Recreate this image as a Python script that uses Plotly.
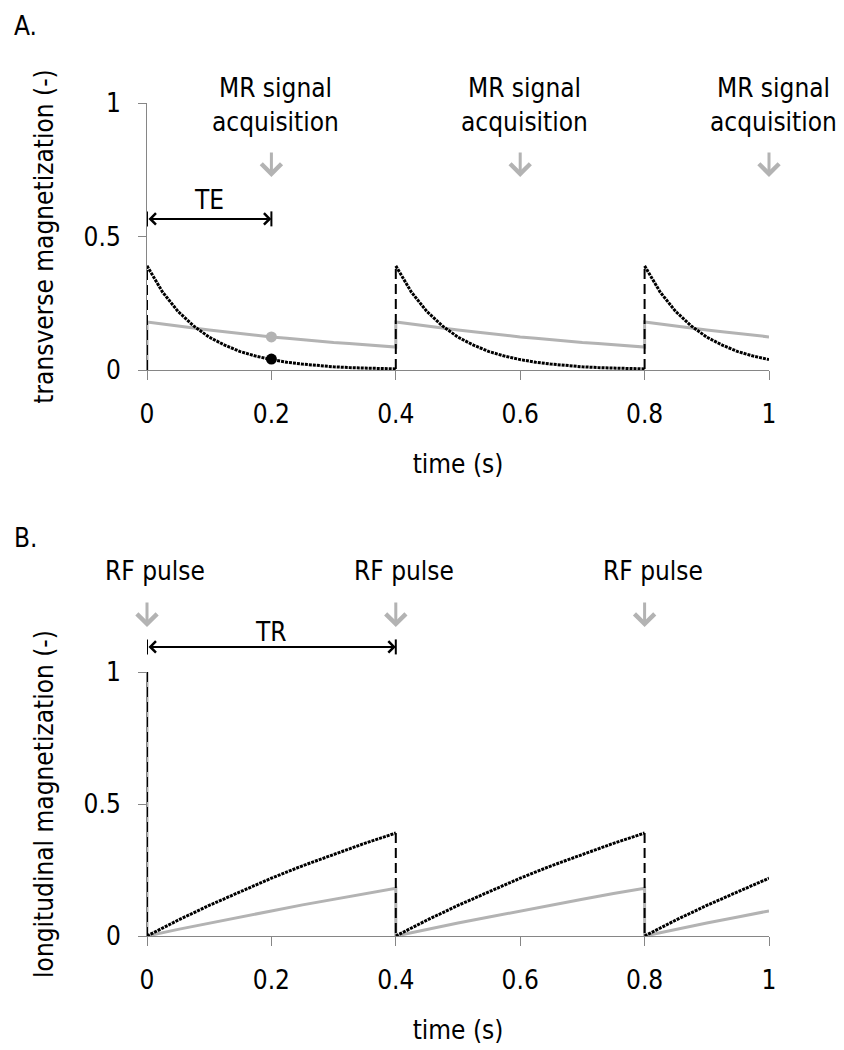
import plotly.graph_objects as go

# ---------------- data ----------------
pulse_times = [0.0, 0.4, 0.8]          # RF pulses (s)
t_end = 1.0
acq_times = [0.2, 0.6, 1.0]            # MR signal acquisition (s)
TE = 0.2
TR = 0.4
x_tick_vals = [0, 0.2, 0.4, 0.6, 0.8, 1]
x_tick_text = ["0", "0.2", "0.4", "0.6", "0.8", "1"]
y_tick_vals = [0, 0.5, 1]
y_tick_text = ["0", "0.5", "1"]

# Panel A: transverse magnetization over one TR (time since pulse)
t_cycle_A = [0.0, 0.025, 0.05, 0.075, 0.1, 0.125, 0.15, 0.175, 0.2,
             0.225, 0.25, 0.275, 0.3, 0.325, 0.35, 0.375, 0.4]
transverse_black = [0.390, 0.292, 0.219, 0.165, 0.123, 0.093, 0.069, 0.052, 0.039,
                    0.029, 0.022, 0.016, 0.012, 0.009, 0.007, 0.005, 0.004]
transverse_gray = [0.180, 0.172, 0.164, 0.157, 0.150, 0.143, 0.136, 0.130, 0.124,
                   0.119, 0.113, 0.108, 0.103, 0.099, 0.094, 0.090, 0.086]
transverse_before_first_pulse = 0.0

# Panel B: longitudinal magnetization over one TR (time since pulse)
t_cycle_B = [0.0, 0.05, 0.1, 0.15, 0.2, 0.25, 0.3, 0.35, 0.4]
longitudinal_black = [0.000, 0.060, 0.116, 0.169, 0.219, 0.266, 0.310, 0.351, 0.390]
longitudinal_gray = [0.000, 0.025, 0.049, 0.072, 0.095, 0.118, 0.139, 0.161, 0.181]
longitudinal_before_first_pulse = 1.0

# dots at TE
te_dot_gray = 0.124
te_dot_black = 0.041

# ---------------- styling ----------------
FONT = "DejaVu Sans Condensed, DejaVu Sans"
BLACK = "#000000"
GRAY = "#b3b3b3"
AXIS = "#868686"
CURVE_DASH = "3px,1px"
JUMP_DASH = "10px,5px"
FS = 26

# the page body has an 8px margin: figure is drawn at (8, 8)
OFF = 8
W, H = 844 - OFF, 1050 - OFF


def px_x(p):
    return (p - OFF) / W


def px_y(p):
    return 1 - (p - OFF) / H


def build(t_cycle, vals, before):
    """Return curve (with gaps), jump (with gaps) and full coordinates."""
    cx, cy, jx, jy, fx, fy = [], [], [], [], [], []
    prev = before
    for p in pulse_times:
        seg_t = [p + t for t in t_cycle if p + t <= t_end + 1e-9]
        seg_v = vals[:len(seg_t)]
        jx += [p, p, None]
        jy += [prev, seg_v[0], None]
        cx += seg_t + [None]
        cy += seg_v + [None]
        fx += [p] + seg_t
        fy += [prev] + seg_v
        prev = seg_v[-1]
    return cx, cy, jx, jy, fx, fy


fig = go.Figure()


def add_panel(t_cycle, black, gray, before_black, before_gray, xa, ya):
    _, _, _, _, gx, gy = build(t_cycle, gray, before_gray)
    fig.add_trace(go.Scatter(x=gx, y=gy, mode="lines", xaxis=xa, yaxis=ya,
                             line=dict(color=GRAY, width=3), showlegend=False,
                             hoverinfo="skip"))
    cx, cy, jx, jy, _, _ = build(t_cycle, black, before_black)
    fig.add_trace(go.Scatter(x=jx, y=jy, mode="lines", xaxis=xa, yaxis=ya,
                             line=dict(color=BLACK, width=2, dash=JUMP_DASH),
                             showlegend=False, hoverinfo="skip"))
    fig.add_trace(go.Scatter(x=cx, y=cy, mode="lines", xaxis=xa, yaxis=ya,
                             line=dict(color=BLACK, width=3, dash=CURVE_DASH),
                             showlegend=False, hoverinfo="skip"))


add_panel(t_cycle_A, transverse_black, transverse_gray,
          transverse_before_first_pulse, transverse_before_first_pulse, "x", "y")
add_panel(t_cycle_B, longitudinal_black, longitudinal_gray,
          longitudinal_before_first_pulse, longitudinal_before_first_pulse, "x2", "y2")

# TE dots
fig.add_trace(go.Scatter(x=[TE], y=[te_dot_gray], mode="markers", xaxis="x", yaxis="y",
                         marker=dict(color=GRAY, size=11), showlegend=False))
fig.add_trace(go.Scatter(x=[TE], y=[te_dot_black], mode="markers", xaxis="x", yaxis="y",
                         marker=dict(color=BLACK, size=11), showlegend=False))

# interval bars (TE, TR) -- heights given in domain units (range is [0, 1])
te_y = 0.566
tr_y = 1.095
shapes = []
for (x_end, yv, xr, yr) in [(TE, te_y, "x", "y domain"), (TR, tr_y, "x2", "y2 domain")]:
    for xv in [0, x_end]:
        shapes.append(dict(type="line", xref=xr, yref=yr, x0=xv, x1=xv,
                           ysizemode="pixel", yanchor=yv, y0=-7.5, y1=7.5,
                           line=dict(color=BLACK, width=2)))

annotations = []
tfont = dict(family=FONT, size=FS, color=BLACK)
afont = dict(family=FONT, size=FS, color=BLACK)
mid = dict(xanchor="center", yanchor="middle")

# double arrows
for (xe, ye, xr, yr) in [(TE, te_y, "x", "y domain"), (TR, tr_y, "x2", "y2 domain")]:
    annotations.append(dict(x=xe, y=ye, ax=0, ay=ye, xref=xr, yref=yr, axref=xr, ayref=yr,
                            text="", showarrow=True, arrowside="end+start",
                            arrowhead=4, startarrowhead=4, arrowsize=1.1, startarrowsize=1.1,
                            arrowwidth=2, arrowcolor=BLACK, standoff=0, startstandoff=0))
annotations.append(dict(x=TE / 2, y=0.637, xref="x", yref="y domain", text="TE",
                        showarrow=False, font=afont, **mid))
annotations.append(dict(x=TR / 2, y=1.15, xref="x2", yref="y2 domain", text="TR",
                        showarrow=False, font=afont, **mid))

# acquisition labels + arrows (panel A)
for t in acq_times:
    annotations.append(dict(x=t, y=1.056, xref="x", yref="y domain", text="MR signal",
                            showarrow=False, font=afont, xshift=4, **mid))
    annotations.append(dict(x=t, y=0.929, xref="x", yref="y domain", text="acquisition",
                            showarrow=False, font=afont, xshift=4, **mid))
    annotations.append(dict(x=t, y=0.723, xref="x", yref="y domain", text="", showarrow=True,
                            ax=0, ay=-26, arrowhead=4, arrowsize=1.3, arrowwidth=3,
                            arrowcolor=GRAY, standoff=0))

# RF pulse labels + arrows (panel B)
for t in pulse_times:
    annotations.append(dict(x=t, y=1.383, xref="x2", yref="y2 domain", text="RF pulse",
                            showarrow=False, font=afont, xshift=8, **mid))
    annotations.append(dict(x=t, y=1.17, xref="x2", yref="y2 domain", text="", showarrow=True,
                            ax=0, ay=-26, arrowhead=4, arrowsize=1.3, arrowwidth=3,
                            arrowcolor=GRAY, standoff=0))

# panel letters
annotations.append(dict(x=px_x(25), y=px_y(9), xref="paper", yref="paper",
                        text="A.", showarrow=False, font=afont,
                        xanchor="center", yanchor="top"))
annotations.append(dict(x=px_x(25), y=px_y(538), xref="paper", yref="paper",
                        text="B.", showarrow=False, font=afont, **mid))

xdom = [px_x(147), px_x(769)]
ax_common = dict(showline=True, linecolor=AXIS, linewidth=1, ticks="outside",
                 tickcolor=AXIS, tickwidth=1, showgrid=False, zeroline=False,
                 tickfont=tfont, automargin=False)

fig.update_layout(
    width=W, height=H, margin=dict(l=0, r=0, t=0, b=0),
    paper_bgcolor="white", plot_bgcolor="white",
    font=dict(family=FONT, size=FS, color=BLACK),
    xaxis=dict(domain=xdom, range=[0, 1], anchor="y", tickvals=x_tick_vals,
               ticktext=x_tick_text, ticklen=9, ticklabelstandoff=12,
               title=dict(text="time (s)", font=tfont, standoff=26), **ax_common),
    yaxis=dict(domain=[px_y(370), px_y(103)], range=[0, 1], anchor="x",
               tickvals=y_tick_vals, ticktext=y_tick_text, ticklen=8, ticklabelstandoff=12,
               title=dict(text="transverse magnetization (-)", font=tfont, standoff=22),
               **ax_common),
    xaxis2=dict(domain=xdom, range=[0, 1], anchor="y2", tickvals=x_tick_vals,
                ticktext=x_tick_text, ticklen=9, ticklabelstandoff=12,
                title=dict(text="time (s)", font=tfont, standoff=26), **ax_common),
    yaxis2=dict(domain=[px_y(936), px_y(672)], range=[0, 1], anchor="x2",
                tickvals=y_tick_vals, ticktext=y_tick_text, ticklen=8, ticklabelstandoff=12,
                title=dict(text="longitudinal magnetization (-)", font=tfont, standoff=22),
                **ax_common),
    annotations=annotations,
    shapes=shapes,
)

fig.write_html("out.html")
